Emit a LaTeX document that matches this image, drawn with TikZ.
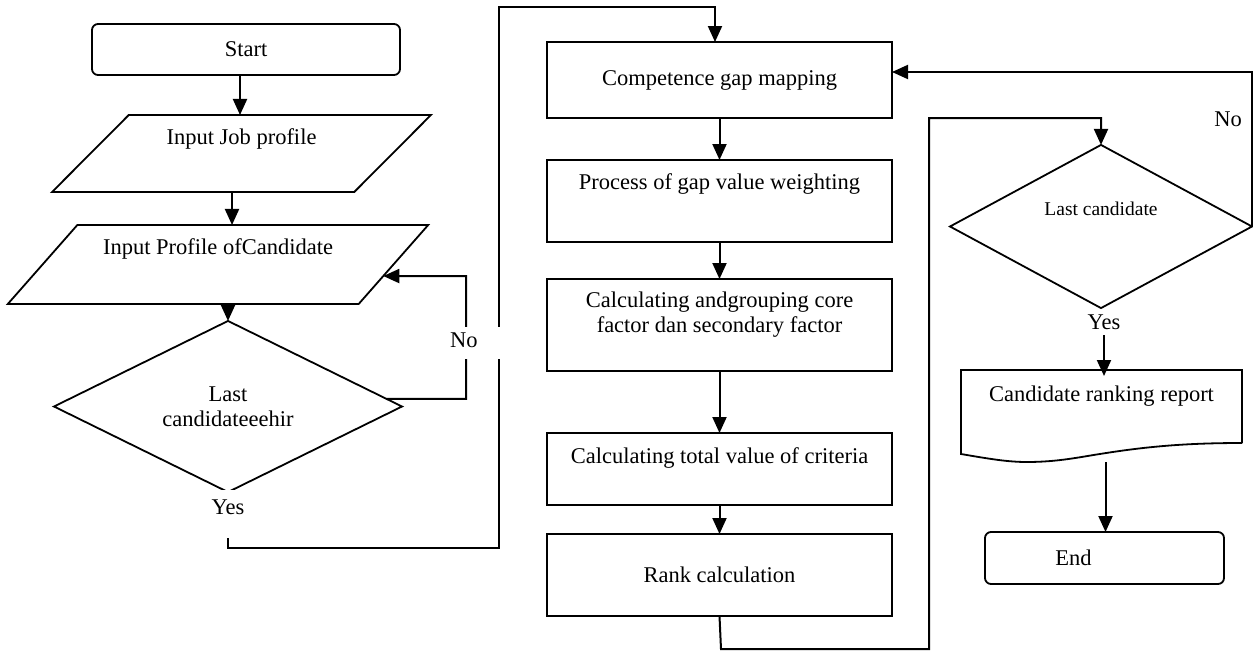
\documentclass[tikz,border=0pt]{standalone}
\usepackage{fontspec}
\setmainfont{Liberation Serif}
\usetikzlibrary{shapes.geometric,arrows.meta,calc}
\begin{document}
\begin{tikzpicture}[x=1pt,y=-1pt,
 every node/.style={font=\fontsize{22.5}{25}\selectfont, inner sep=0pt, outer sep=0pt},
 shp/.style={draw, line width=1.8pt},
 box/.style={shp, rectangle, minimum width=345pt, align=center},
 term/.style={shp, rectangle, rounded corners=6pt},
 io/.style 2 args={shp, trapezium, trapezium stretches=true, trapezium left angle=#1, trapezium right angle=#2},
 dec/.style={shp, diamond, align=center},
 arr/.style={line width=2pt, -{Triangle[length=16pt,width=14pt]}},
 lbl/.style={fill=white}]
\useasboundingbox (0,0) rectangle (1253,651);

% left column
\node[term, minimum width=308pt, minimum height=51pt] (start) at (246,49.5) {Start};
\node[io={45}{135}, minimum width=379pt, minimum height=77pt, text height=16pt, text depth=35pt] (p1) at (241.5,153.5) {Input Job profile};
\node[io={43}{137}, minimum width=422pt, minimum height=79pt, text height=16pt, text depth=37pt] (p2) at (218,264.5) {Input Profile ofCandidate};
\node[dec, minimum width=348pt, minimum height=133pt] (d1) at (228,406.5) {Last\\candidateeehir};

% middle column
\node[box, minimum height=76pt] (b1) at (719.5,80) {Competence gap mapping};
\node[box, minimum height=82pt, text height=16pt, text depth=40pt] (b2) at (719.5,201) {Process of gap value weighting};
\node[box, minimum height=92pt, text height=41pt, text depth=27pt] (b3) at (719.5,325) {Calculating andgrouping core\\factor dan secondary factor};
\node[box, minimum height=72pt, text height=16pt, text depth=28pt] (b4) at (719.5,469) {Calculating total value of criteria};
\node[box, minimum height=82pt] (b5) at (719.5,575) {Rank calculation};

% right column
\node[dec, minimum width=302pt, minimum height=135pt, font=\fontsize{19.5}{22}\selectfont, text height=14pt, text depth=36pt] (d2) at (1101,226.5) {Last candidate};
\node[minimum width=281pt, minimum height=73pt, text height=16pt, text depth=27pt] (doc) at (1101.5,406.5) {Candidate ranking report};
\draw[line width=1.8pt] (doc.south east) -- (doc.north east) -- (doc.north west) -- (961,454)
  .. controls (990,459) and (1008,462) .. (1027,462)
  .. controls (1058,462) and (1080,457) .. (1103,453.5)
  .. controls (1150,446) and (1190,443) .. (doc.south east);
\node[term, minimum width=239pt, minimum height=52pt] (stop) at (1104.5,558) {End\hspace*{62pt}};

% connectors, left
\draw[arr] ([xshift=-6pt]start.south) -- ([xshift=-6pt]start.south |- p1.north);
\draw[arr] ([xshift=-9.5pt]p1.south) -- ([xshift=-9.5pt]p1.south |- p2.north);
\draw[arr] (d1.north |- p2.south) -- (d1.north);
\coordinate (noturn) at (466,276);
\draw[arr] ($(d1.north east)!0.82!(d1.east)$) -| (noturn) -- ($(p2.top right corner)!0.646!(p2.bottom right corner)$);
\coordinate (yesA) at (228,548);
\coordinate (yesB) at (499,7);
\draw[arr] (d1.south) -- (yesA) -| (yesB) -| ([xshift=-4.5pt]b1.north);
\node[lbl, minimum height=48pt, inner xsep=3pt, text height=15pt, text depth=15pt] (yesL) at (228,514) {Yes};
\node[lbl, anchor=west, text width=56pt, align=left, minimum height=32pt, text depth=5pt] (noL) at (450,343) {No};

% connectors, middle
\draw[arr] (b1) -- (b2);
\draw[arr] (b2) -- (b3);
\draw[arr] (b3) -- (b4);
\draw[arr] (b4) -- (b5);
\coordinate (rA) at (721,649);
\coordinate (rB) at (929,118);
\draw[arr] (b5.south) -- (rA) -| (rB) -| (d2.north);

% connectors, right
\draw[arr] (d2.east) |- ([yshift=8pt]b1.east);
\node (noR) at (1228,119) {No};
\node (yesR) at (1104,322) {Yes};
\draw[arr] ([yshift=-6pt]yesR.south) -- ([yshift=-6pt]yesR.south |- doc.north);
\draw[arr] ([xshift=4pt,yshift=-19pt]doc.south) -- ([xshift=4pt]doc.south |- stop.north);
\end{tikzpicture}
\end{document}
